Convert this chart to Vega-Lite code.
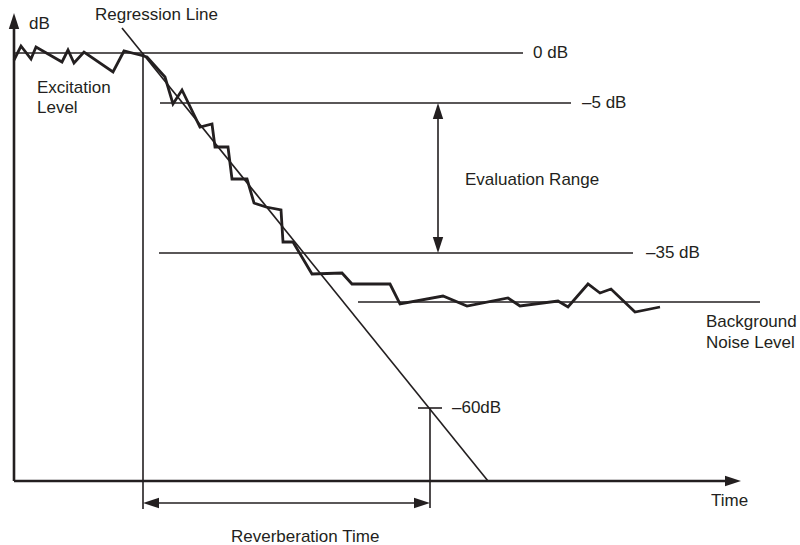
{
  "$schema": "https://vega.github.io/schema/vega-lite/v6.json",
  "width": 800,
  "height": 545,
  "autosize": {"type": "fit", "contains": "padding"},
  "padding": 0,
  "background": "white",
  "config": {"view": {"stroke": null}},
  "datasets": {
    "axes": [
      {"t": 14, "level": 64, "t2": 14, "level2": 522},
      {"t": 14, "level": 64, "t2": 730, "level2": 64}
    ],
    "guides": [
      {"name": "0 dB", "t": 14, "level": 492, "t2": 523, "level2": 492},
      {"name": "-5 dB", "t": 160, "level": 442, "t2": 571, "level2": 442},
      {"name": "-35 dB", "t": 159, "level": 292, "t2": 633, "level2": 292},
      {"name": "noise", "t": 358, "level": 243, "t2": 760, "level2": 243},
      {"name": "regression", "t": 122, "level": 517, "t2": 488, "level2": 64},
      {"name": "start", "t": 143, "level": 492, "t2": 143, "level2": 36},
      {"name": "end", "t": 430, "level": 137, "t2": 430, "level2": 37},
      {"name": "-60 tick", "t": 418, "level": 137, "t2": 442, "level2": 137},
      {"name": "eval", "t": 438, "level": 436, "t2": 438, "level2": 298},
      {"name": "reverb", "t": 149, "level": 42, "t2": 424, "level2": 42}
    ],
    "curve": [
      {"t": 14, "level": 485}, {"t": 21, "level": 499}, {"t": 31, "level": 486},
      {"t": 36, "level": 498}, {"t": 62, "level": 483}, {"t": 68, "level": 495},
      {"t": 74, "level": 482}, {"t": 84, "level": 493}, {"t": 113, "level": 473},
      {"t": 124, "level": 494}, {"t": 140, "level": 490}, {"t": 147, "level": 488},
      {"t": 165, "level": 468}, {"t": 173, "level": 441}, {"t": 182, "level": 455},
      {"t": 200, "level": 418}, {"t": 212, "level": 421}, {"t": 215, "level": 398},
      {"t": 228, "level": 398}, {"t": 232, "level": 366}, {"t": 247, "level": 366},
      {"t": 254, "level": 342}, {"t": 266, "level": 338}, {"t": 281, "level": 335},
      {"t": 283, "level": 303}, {"t": 293, "level": 303}, {"t": 312, "level": 271},
      {"t": 342, "level": 272}, {"t": 352, "level": 261}, {"t": 390, "level": 261},
      {"t": 400, "level": 241}, {"t": 443, "level": 249}, {"t": 467, "level": 239},
      {"t": 508, "level": 247}, {"t": 520, "level": 239}, {"t": 558, "level": 244},
      {"t": 568, "level": 238}, {"t": 588, "level": 261}, {"t": 600, "level": 252},
      {"t": 611, "level": 256}, {"t": 635, "level": 233}, {"t": 660, "level": 238}
    ],
    "arrows": [
      {"t": 14, "level": 532, "dir": "up"},
      {"t": 741, "level": 64, "dir": "right"},
      {"t": 438, "level": 442, "dir": "up"},
      {"t": 438, "level": 292, "dir": "down"},
      {"t": 143, "level": 42, "dir": "left"},
      {"t": 430, "level": 42, "dir": "right"}
    ],
    "labels": [
      {"t": 29, "level": 521, "text": "dB"},
      {"t": 95, "level": 530, "text": "Regression Line"},
      {"t": 37, "level": 457, "text": "Excitation"},
      {"t": 37, "level": 437, "text": "Level"},
      {"t": 533, "level": 492, "text": "0 dB"},
      {"t": 582, "level": 442, "text": "–5 dB"},
      {"t": 465, "level": 365, "text": "Evaluation Range"},
      {"t": 646, "level": 292, "text": "–35 dB"},
      {"t": 706, "level": 223, "text": "Background"},
      {"t": 706, "level": 202, "text": "Noise Level"},
      {"t": 452, "level": 137, "text": "–60dB"},
      {"t": 711, "level": 44, "text": "Time"},
      {"t": 231, "level": 8, "text": "Reverberation Time"}
    ]
  },
  "encoding": {
    "x": {"field": "t", "type": "quantitative", "scale": {"domain": [0, 800], "nice": false, "zero": false}, "axis": null},
    "y": {"field": "level", "type": "quantitative", "scale": {"domain": [0, 545], "nice": false, "zero": false}, "axis": null}
  },
  "layer": [
    {
      "data": {"name": "guides"},
      "mark": {"type": "rule", "color": "#231f20", "strokeWidth": 1.6},
      "encoding": {"x2": {"field": "t2"}, "y2": {"field": "level2"}}
    },
    {
      "data": {"name": "axes"},
      "mark": {"type": "rule", "color": "#231f20", "strokeWidth": 2.6},
      "encoding": {"x2": {"field": "t2"}, "y2": {"field": "level2"}}
    },
    {
      "data": {"name": "curve"},
      "mark": {"type": "line", "color": "#231f20", "strokeWidth": 2.8, "strokeJoin": "miter"},
      "encoding": {"order": {"field": "t", "type": "quantitative"}}
    },
    {
      "data": {"name": "arrows"},
      "transform": [{"filter": "datum.dir === 'up'"}],
      "mark": {"type": "point", "shape": "M0,0L0.65,2L-0.65,2Z", "filled": true, "color": "#231f20", "opacity": 1, "size": 256, "strokeWidth": 0, "angle": 0}
    },
    {
      "data": {"name": "arrows"},
      "transform": [{"filter": "datum.dir === 'right'"}],
      "mark": {"type": "point", "shape": "M0,0L0.65,2L-0.65,2Z", "filled": true, "color": "#231f20", "opacity": 1, "size": 256, "strokeWidth": 0, "angle": 90}
    },
    {
      "data": {"name": "arrows"},
      "transform": [{"filter": "datum.dir === 'down'"}],
      "mark": {"type": "point", "shape": "M0,0L0.65,2L-0.65,2Z", "filled": true, "color": "#231f20", "opacity": 1, "size": 256, "strokeWidth": 0, "angle": 180}
    },
    {
      "data": {"name": "arrows"},
      "transform": [{"filter": "datum.dir === 'left'"}],
      "mark": {"type": "point", "shape": "M0,0L0.65,2L-0.65,2Z", "filled": true, "color": "#231f20", "opacity": 1, "size": 256, "strokeWidth": 0, "angle": 270}
    },
    {
      "data": {"name": "labels"},
      "mark": {"type": "text", "align": "left", "baseline": "middle", "font": "Liberation Sans", "fontSize": 17, "color": "#231f20"},
      "encoding": {"text": {"field": "text", "type": "nominal"}}
    }
  ]
}
